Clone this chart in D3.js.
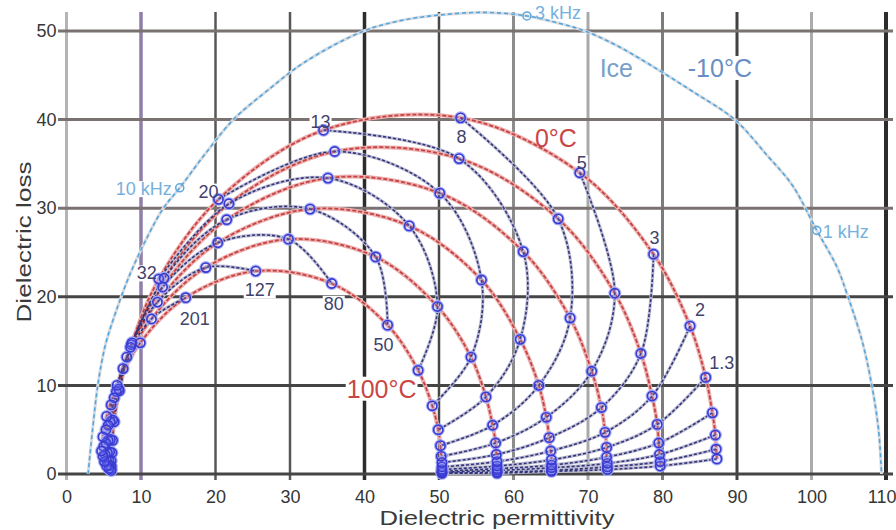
<!DOCTYPE html>
<html>
<head>
<meta charset="utf-8">
<script src="https://cdn.jsdelivr.net/npm/d3@7"></script>
<style>
body { margin: 0; background: #fff; }
svg { font-family: "Liberation Sans", Arial, sans-serif; }
</style>
</head>
<body>
<svg id="chart" width="896" height="530"></svg>
<script>
// water temperatures (red arcs)
var temps = ["0°C", "20°C", "40°C", "60°C", "80°C", "100°C"];
// frequencies in GHz (blue iso-frequency lines)
var freqs = ["0.2", "0.32", "0.5", "0.8", "1.3", "2", "3", "5", "8", "13", "20", "32", "50", "80", "127", "201", "320", "500", "800", "1270", "2010"];

// dielectric permittivity, one row per temperature, one column per frequency
var permittivity = [
  [87.3, 87.2, 87.1, 86.7, 85.8, 83.7, 78.8, 68.9, 52.9, 34.5, 20.4, 12.4, 8.7, 7.1, 6.4, 6.2, 6.1, 6.0, 6.0, 6.0, 6.0],
  [79.7, 79.7, 79.6, 79.5, 79.3, 78.6, 77.1, 73.6, 66.0, 52.7, 36.0, 21.8, 13.1, 8.8, 7.0, 6.2, 5.9, 5.8, 5.7, 5.7, 5.7],
  [72.6, 72.6, 72.6, 72.5, 72.5, 72.3, 71.8, 70.5, 67.6, 61.3, 50.1, 35.1, 21.5, 12.9, 8.6, 6.7, 5.9, 5.6, 5.5, 5.4, 5.4],
  [65.1, 65.1, 65.1, 65.1, 65.1, 65.0, 64.8, 64.4, 63.4, 60.9, 55.7, 46.0, 32.7, 20.3, 12.2, 8.1, 6.4, 5.6, 5.3, 5.2, 5.1],
  [57.8, 57.8, 57.8, 57.8, 57.8, 57.8, 57.7, 57.6, 57.2, 56.3, 54.3, 49.8, 41.5, 29.8, 18.7, 11.4, 7.6, 6.0, 5.3, 5.0, 4.9],
  [50.4, 50.4, 50.4, 50.4, 50.4, 50.4, 50.4, 50.3, 50.2, 49.9, 49.1, 47.2, 43.1, 35.6, 25.4, 16.0, 9.9, 6.8, 5.4, 4.9, 4.7]
];
// dielectric loss, same layout
var loss = [
  [1.7, 2.8, 4.4, 6.9, 10.9, 16.7, 24.8, 34.0, 40.2, 38.8, 31.0, 22.0, 14.6, 9.4, 5.9, 3.8, 2.4, 1.5, 0.9, 0.6, 0.4],
  [0.9, 1.4, 2.2, 3.5, 5.6, 8.8, 13.6, 20.4, 28.8, 35.6, 36.4, 30.5, 22.1, 14.8, 9.6, 6.1, 3.9, 2.5, 1.5, 1.0, 0.6],
  [0.5, 0.8, 1.2, 1.9, 3.0, 4.7, 7.5, 11.6, 17.6, 25.1, 31.7, 33.4, 28.7, 21.1, 14.3, 9.3, 5.9, 3.8, 2.4, 1.5, 0.9],
  [0.3, 0.4, 0.7, 1.0, 1.6, 2.6, 4.1, 6.4, 10.0, 15.2, 21.9, 28.0, 29.9, 26.1, 19.4, 13.2, 8.6, 5.5, 3.5, 2.2, 1.4],
  [0.1, 0.2, 0.4, 0.6, 0.9, 1.4, 2.2, 3.5, 5.5, 8.7, 13.2, 18.9, 24.5, 26.5, 23.3, 17.5, 11.9, 7.8, 5.0, 3.1, 2.0],
  [0.1, 0.1, 0.2, 0.3, 0.5, 0.8, 1.3, 2.0, 3.2, 5.0, 7.7, 11.7, 16.8, 21.5, 22.9, 19.9, 14.8, 10.0, 6.5, 4.2, 2.6]
];

// ice at -10°C
var icePermittivity = [2.9, 3.5, 4.2, 5.2, 6.5, 8.5, 11, 13, 15.2, 18.5, 22.4, 27, 32, 39.9, 45, 50, 56, 61.8, 66, 69.6, 74, 78.7, 84, 89.7, 94, 97.5, 100.7, 103.4, 104.9, 106.8, 108.1, 109, 109.4];
var iceLoss = [0, 5, 10, 14.5, 18, 22.5, 27, 30, 32.3, 36, 40, 43.3, 46.5, 50, 51.2, 51.8, 52.1, 51.7, 50.9, 50, 48.3, 46, 43.2, 40, 36, 32.5, 27.5, 23.4, 20, 15, 10, 5, 0];
var iceFreqs = ["10 kHz", "3 kHz", "1 kHz"];
var iceFreqPermittivity = [15.2, 61.8, 100.7];
var iceFreqLoss = [32.3, 51.7, 27.5];

// frequency labels and the temperature row they sit on
var freqLabels = ["13", "8", "5", "3", "2", "1.3", "20", "32", "201", "127", "80", "50"];
var freqLabelTemps = ["0°C", "0°C", "0°C", "0°C", "0°C", "0°C", "0°C", "0°C", "100°C", "100°C", "100°C", "100°C"];

var xTicks = [0, 10, 20, 30, 40, 50, 60, 70, 80, 90, 100, 110];
var yTicks = [0, 10, 20, 30, 40, 50];

// ---- layout / styles ----
var labelOffsets = {
  "13": [-3, -9], "8": [1, 19], "5": [2, -10], "3": [1, -17], "2": [10, -16], "1.3": [16, -15],
  "20": [-10, -8], "32": [-12, -6], "201": [9, 21], "127": [4, 19], "80": [2, 20], "50": [-4, 20]
};
var vColors = ["#b6b2ba", "#8e7ea8", "#575757", "#575757", "#2c2c2c", "#474747", "#8c8c8c", "#a9a9a9", "#7c7c7c", "#414141", "#ababab", "#2c2c2c"];
var vWidths = [3, 3.5, 2.5, 2.5, 3.5, 2.5, 3, 3, 3, 3, 3, 4];
var hColors = ["#454545", "#454545", "#454545", "#7a7171", "#7a7171", "#7a7171"];

var svg = d3.select('#chart');
var x = d3.scaleLinear().domain([0, 110]).range([66.5, 886]);
var y = d3.scaleLinear().domain([0, 50]).range([474, 31]);

// grid
var grid = svg.append('g');
grid.selectAll('line.v').data(xTicks).enter().append('line')
  .attr('x1', function(d) { return x(d); }).attr('x2', function(d) { return x(d); })
  .attr('y1', 12).attr('y2', 480)
  .attr('stroke', function(d, i) { return vColors[i]; })
  .attr('stroke-width', function(d, i) { return vWidths[i]; });
grid.selectAll('line.h').data(yTicks).enter().append('line')
  .attr('x1', 58).attr('x2', 893)
  .attr('y1', function(d) { return y(d); }).attr('y2', function(d) { return y(d); })
  .attr('stroke', function(d, i) { return hColors[i]; })
  .attr('stroke-width', 3);

// axes (labels only)
var yAxis = svg.append('g').attr('transform', 'translate(' + x(0) + ',0)')
  .call(d3.axisLeft(y).tickValues(yTicks).tickSize(0).tickPadding(10));
var xAxis = svg.append('g').attr('transform', 'translate(0,' + y(0) + ')')
  .call(d3.axisBottom(x).tickValues(xTicks).tickSize(0).tickPadding(16));
[yAxis, xAxis].forEach(function(a) {
  a.select('.domain').remove();
  a.selectAll('text').attr('font-size', 18).attr('fill', '#363636')
    .attr('font-family', '"Liberation Sans", Arial, sans-serif');
});
// last tick label sits against the right edge
xAxis.selectAll('.tick').filter(function(d) { return d === 110; })
  .select('text').attr('text-anchor', 'end').attr('x', 10);

svg.append('text').attr('x', 497).attr('y', 525).attr('text-anchor', 'middle')
  .attr('font-size', 21).attr('fill', '#3a3a3a')
  .attr('textLength', 235).attr('lengthAdjust', 'spacingAndGlyphs')
  .text('Dielectric permittivity');
svg.append('text').attr('transform', 'translate(31,242) rotate(-90)').attr('text-anchor', 'middle')
  .attr('font-size', 21).attr('fill', '#3a3a3a')
  .attr('textLength', 161).attr('lengthAdjust', 'spacingAndGlyphs')
  .text('Dielectric loss');

// white boxes behind labels go here, filled in at the end
var bgLayer = svg.append('g');

var line = d3.line()
  .x(function(d) { return x(d[0]); })
  .y(function(d) { return y(d[1]); })
  .curve(d3.curveCatmullRom.alpha(0.5));

// ice curve
var icePts = icePermittivity.map(function(v, i) { return [v, iceLoss[i]]; });
svg.append('path').attr('d', line(icePts)).attr('fill', 'none')
  .attr('stroke', '#d6dbe2').attr('stroke-width', 3);
svg.append('path').attr('d', line(icePts)).attr('fill', 'none')
  .attr('stroke', '#56a6dc').attr('stroke-width', 1.6).attr('stroke-dasharray', '4,3');

var tempPts = temps.map(function(t, i) {
  return freqs.map(function(f, j) { return [permittivity[i][j], loss[i][j]]; });
});
var freqPts = freqs.map(function(f, j) {
  return temps.map(function(t, i) { return [permittivity[i][j], loss[i][j]]; });
});

// halos
svg.append('g').selectAll('path').data(tempPts).enter().append('path')
  .attr('d', line).attr('fill', 'none').attr('stroke', '#ecb0b0').attr('stroke-width', 4);
svg.append('g').selectAll('path').data(freqPts).enter().append('path')
  .attr('d', line).attr('fill', 'none').attr('stroke', '#bcbcd2').attr('stroke-width', 3.2);
// red temperature arcs
svg.append('g').selectAll('path').data(tempPts).enter().append('path')
  .attr('d', line).attr('fill', 'none').attr('stroke', '#c64242')
  .attr('stroke-width', 1.8).attr('stroke-dasharray', '4,2');
// iso-frequency lines
svg.append('g').selectAll('path').data(freqPts).enter().append('path')
  .attr('d', line).attr('fill', 'none').attr('stroke', '#34347a')
  .attr('stroke-width', 1.6).attr('stroke-dasharray', '3,2');

// markers
var allPts = [];
tempPts.forEach(function(row) { row.forEach(function(p) { allPts.push(p); }); });
var mk = svg.append('g');
mk.selectAll('circle.halo').data(allPts).enter().append('circle')
  .attr('cx', function(d) { return x(d[0]); }).attr('cy', function(d) { return y(d[1]); })
  .attr('r', 5.2).attr('fill', 'none')
  .attr('stroke', '#a4acf6').attr('stroke-width', 2.6);
mk.selectAll('circle.dot').data(allPts).enter().append('circle')
  .attr('cx', function(d) { return x(d[0]); }).attr('cy', function(d) { return y(d[1]); })
  .attr('r', 4.6).attr('fill', 'rgba(130,140,255,0.2)')
  .attr('stroke', '#3a3ad2').attr('stroke-width', 1.6);

svg.append('g').selectAll('circle').data(iceFreqs).enter().append('circle')
  .attr('cx', function(d, i) { return x(iceFreqPermittivity[i]); })
  .attr('cy', function(d, i) { return y(iceFreqLoss[i]); })
  .attr('r', 4).attr('fill', 'none').attr('stroke', '#62aadc').attr('stroke-width', 1.6);

// labels
var labels = svg.append('g');
freqLabels.forEach(function(t, k) {
  var ti = temps.indexOf(freqLabelTemps[k]);
  var fj = freqs.indexOf(t);
  var off = labelOffsets[t];
  labels.append('text')
    .attr('x', x(permittivity[ti][fj]) + off[0])
    .attr('y', y(loss[ti][fj]) + off[1])
    .attr('dy', '0.35em').attr('text-anchor', 'middle')
    .attr('font-size', 18).attr('fill', '#42426c').text(t);
});

var iceAnchor = ['end', 'start', 'start'];
var iceDx = [-8, 8, 6];
iceFreqs.forEach(function(t, i) {
  labels.append('text')
    .attr('x', x(iceFreqPermittivity[i]) + iceDx[i])
    .attr('y', y(iceFreqLoss[i]) + (i === 1 ? -3 : 1))
    .attr('dy', '0.35em').attr('text-anchor', iceAnchor[i])
    .attr('font-size', 18).attr('fill', '#74b0de').text(t);
});

var notes = [
  { text: '0°C', px: 65.7, ly: 37.9, color: '#c94646' },
  { text: '100°C', px: 42.3, ly: 9.6, color: '#c94646' },
  { text: 'Ice', px: 73.8, ly: 45.8, color: '#78a0c8' },
  { text: '-10°C', px: 87.7, ly: 45.8, color: '#6a8ec4' }
];
notes.forEach(function(n) {
  labels.append('text')
    .attr('x', x(n.px)).attr('y', y(n.ly)).attr('dy', '0.35em')
    .attr('text-anchor', 'middle').attr('font-size', 25)
    .attr('fill', n.color).text(n.text);
});

// white boxes behind every label
labels.selectAll('text').each(function() {
  var b = this.getBBox();
  bgLayer.append('rect')
    .attr('x', b.x - 1).attr('y', b.y + 2)
    .attr('width', b.width + 2).attr('height', b.height - 4)
    .attr('fill', '#fff');
});
</script>
</body>
</html>
